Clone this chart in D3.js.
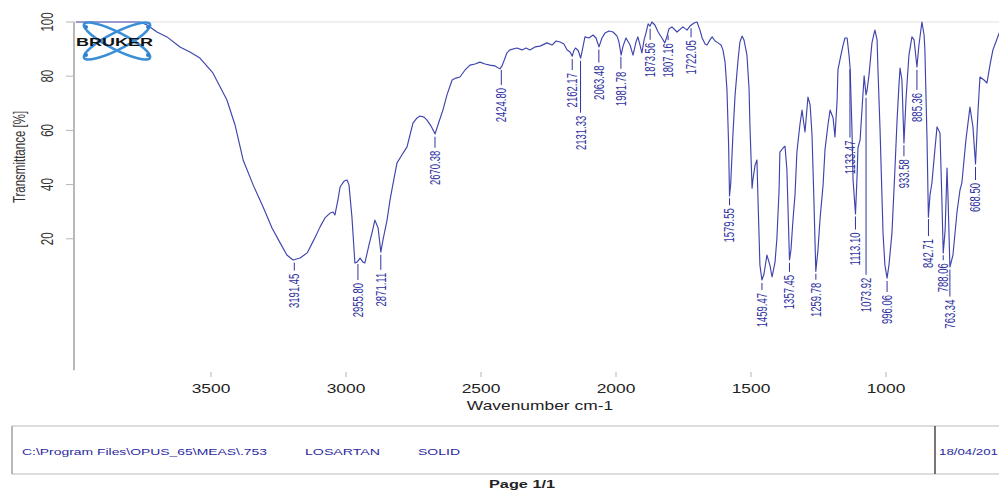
<!DOCTYPE html>
<html>
<head>
<meta charset="utf-8">
<script src="https://cdn.jsdelivr.net/npm/d3@7"></script>
<style>
  html, body { margin: 0; padding: 0; background: #fff; overflow: hidden; }
  svg { display: block; font-family: "Liberation Sans", Arial, sans-serif; }
</style>
</head>
<body>
<svg id="chart" width="999" height="490"></svg>
<script>
// ---- IR spectrum of losartan (solid) ----
// wavenumber in cm-1 (descending) and transmittance in %
const wavenumbers = [
  4000, 3763, 3737, 3700, 3663, 3615, 3578, 3541, 3493, 3441, 3411, 3381, 3344, 3307, 3274, 3244, 3219, 3196, 3170, 3144,
  3119, 3096, 3078, 3059, 3048, 3041, 3030, 3022, 3007, 2996, 2989, 2978, 2967, 2959, 2948, 2937, 2930, 2915, 2904, 2893,
  2881, 2871, 2863, 2848, 2837, 2822, 2811, 2793, 2774, 2763, 2752, 2737, 2726, 2711, 2700, 2685, 2670, 2656, 2641, 2626,
  2607, 2593, 2578, 2559, 2541, 2522, 2504, 2485, 2467, 2448, 2430, 2422, 2411, 2404, 2393, 2367, 2348, 2333, 2319, 2300,
  2281, 2256, 2237, 2222, 2207, 2193, 2181, 2170, 2162, 2156, 2150, 2140, 2131, 2124, 2115, 2100, 2085, 2074, 2063, 2052,
  2041, 2026, 2011, 1996, 1989, 1981, 1974, 1963, 1948, 1937, 1926, 1919, 1911, 1904, 1896, 1889, 1881, 1874, 1867, 1856,
  1844, 1830, 1819, 1811, 1804, 1793, 1774, 1752, 1737, 1726, 1711, 1700, 1689, 1681, 1670, 1663, 1652, 1644, 1633, 1622,
  1611, 1604, 1596, 1589, 1583, 1579.5, 1575, 1567, 1559, 1548, 1541, 1533, 1526, 1515, 1507, 1504, 1496, 1493, 1485, 1478,
  1474, 1467, 1459.5, 1452, 1441, 1430, 1422, 1411, 1404, 1396, 1393, 1381, 1374, 1367, 1357.5, 1352, 1344, 1337, 1330, 1319,
  1311, 1300, 1289, 1281, 1274, 1267, 1260, 1252, 1244, 1233, 1226, 1215, 1207, 1196, 1189, 1181, 1178, 1167, 1159, 1152,
  1144, 1137, 1133, 1126, 1122, 1113, 1107, 1104, 1096, 1089, 1081, 1074, 1070, 1063, 1052, 1044, 1041, 1033, 1030, 1022,
  1011, 1004, 996, 989, 978, 967, 959, 952, 948, 941, 933.5, 926, 922, 915, 904, 896, 885.4, 878, 867, 859,
  856, 848, 843, 837, 830, 819, 811, 800, 793, 788, 781, 774, 770, 763.3, 752, 737, 726, 719, 704, 689,
  678, 668.5, 659, 652, 637, 626, 615, 604, 593, 581, 567, 540, 500, 450, 400
];
const transmittance = [
  100.0, 100.0, 98.9, 96.3, 94.5, 90.8, 88.9, 86.7, 81.2, 71.2, 62.0, 49.1, 39.9, 31.7, 24.0, 18.5, 14.0, 12.2, 12.9, 14.8,
  19.6, 24.4, 27.7, 29.5, 29.9, 28.8, 34.3, 39.1, 41.3, 41.7, 39.9, 28.0, 11.1, 11.4, 12.9, 11.4, 11.1, 17.7, 22.1, 26.9,
  24.0, 15.1, 19.6, 26.9, 34.3, 42.4, 48.0, 50.9, 53.9, 58.3, 62.7, 64.6, 65.3, 64.9, 63.8, 61.6, 58.7, 63.1, 67.5, 73.1,
  78.6, 79.3, 79.7, 82.3, 84.1, 84.5, 85.2, 84.5, 84.1, 83.8, 82.7, 83.8, 86.7, 88.6, 89.7, 90.4, 89.7, 90.4, 89.7, 90.8,
  91.1, 92.3, 91.5, 93.0, 92.6, 91.9, 89.7, 88.9, 87.4, 89.5, 90.4, 89.5, 86.7, 90.0, 94.5, 94.1, 95.2, 94.1, 90.8, 94.1,
  95.9, 96.7, 96.3, 94.8, 92.6, 87.8, 91.1, 94.1, 91.5, 87.8, 92.6, 94.5, 91.5, 88.6, 93.4, 95.9, 99.3, 98.5, 100.0, 98.9,
  96.3, 94.1, 92.3, 94.8, 97.4, 98.2, 96.3, 98.2, 97.0, 98.5, 99.6, 100.0, 97.0, 94.1, 91.9, 91.5, 93.4, 94.5, 93.0, 92.3,
  91.5, 89.7, 85.2, 74.9, 55.0, 35.8, 40.5, 58.3, 73.1, 86.0, 92.6, 94.8, 93.4, 87.8, 74.9, 62.0, 38.7, 41.7, 47.2, 49.1,
  34.3, 10.3, 4.8, 7.0, 14.0, 10.3, 5.9, 11.4, 20.3, 38.0, 52.0, 53.5, 54.2, 45.4, 12.2, 15.9, 27.7, 36.2, 52.0, 62.0,
  67.5, 59.4, 72.3, 69.4, 58.3, 34.3, 8.0, 15.9, 27.7, 39.9, 52.8, 62.0, 67.5, 64.6, 57.6, 71.2, 82.3, 87.8, 91.5, 94.1,
  94.1, 87.8, 83.0, 60.1, 41.7, 29.2, 43.5, 53.5, 56.5, 67.5, 80.1, 73.1, 74.9, 80.4, 92.3, 95.9, 97.0, 93.4, 83.0, 60.1,
  22.1, 10.3, 5.5, 10.3, 22.1, 45.4, 63.8, 76.8, 83.0, 78.6, 55.4, 71.2, 77.5, 87.8, 94.5, 93.4, 83.4, 91.5, 100.0, 95.2,
  89.7, 56.5, 28.0, 36.2, 40.6, 52.8, 61.3, 59.0, 34.3, 14.8, 23.2, 46.1, 34.3, 9.6, 14.0, 29.9, 38.0, 40.6, 56.5, 68.6,
  61.3, 47.6, 67.5, 79.7, 78.6, 77.5, 84.1, 89.7, 92.6, 95.9, 97.8, 98.5, 98.0, 97.5, 97.0
];

// Peak picks, as printed
const peakWavenumbers = [3191.45, 2955.80, 2871.11, 2670.38, 2424.80, 2162.17, 2131.33, 2063.48, 1981.78, 1873.56,
  1807.16, 1722.05, 1579.55, 1459.47, 1357.45, 1259.78, 1133.47, 1113.10, 1073.92, 996.06,
  933.58, 885.36, 842.71, 788.06, 763.34, 668.50];
// Leader-line length (px) under each peak, same order
const leaderLengths = [8, 16, 15, 11, 15, 11, 52, 13, 12, 11,
  5, 9, 7, 7, 9, 6, 68, 13, 177, 11,
  11, 20, 17, 5, 27, 13];

const xTickValues = [3500, 3000, 2500, 2000, 1500, 1000];
const yTickValues = [100, 80, 60, 40, 20];

const footerPath = "C:\\Program Files\\OPUS_65\\MEAS\\.753";
const footerSample = "LOSARTAN";
const footerState = "SOLID";
const footerDate = "18/04/201";

// ---- drawing ----
const svg = d3.select("#chart");
const stretch = 1.45;               // horizontal glyph stretch of the printout
const curveColor = "#3f44ad";
const labelColor = "#2f33a0";

const x = d3.scaleLinear().domain([4000, 400]).range([76, 1048]);
const y = d3.scaleLinear().domain([0, 100]).range([293, 22]);
const yFloor = -28.5;               // bottom end of the ordinate line

// frame: top rule and ordinate line
svg.append("line").attr("x1", 74).attr("x2", 999)
  .attr("y1", y(100)).attr("y2", y(100))
  .attr("stroke", "#e2e2e2").attr("stroke-width", 1.2);
svg.append("line").attr("x1", 74).attr("x2", 74)
  .attr("y1", y(100)).attr("y2", y(yFloor))
  .attr("stroke", "#9a9a9a").attr("stroke-width", 1.4);

// y ticks and rotated labels
const yT = svg.append("g");
yTickValues.forEach(v => {
  yT.append("line").attr("x1", 66).attr("x2", 74)
    .attr("y1", y(v)).attr("y2", y(v))
    .attr("stroke", "#b5b5b5").attr("stroke-width", 1);
  yT.append("text")
    .attr("transform", `translate(47,${y(v)}) rotate(-90) scale(1,${stretch})`)
    .attr("text-anchor", "middle").attr("dy", "0.36em")
    .attr("font-size", 11.5).attr("fill", "#333")
    .text(v);
});
svg.append("text")
  .attr("transform", `translate(19,157) rotate(-90) scale(1,${stretch})`)
  .attr("text-anchor", "middle").attr("dy", "0.36em")
  .attr("font-size", 11.5).attr("fill", "#333")
  .text("Transmittance [%]");

// x ticks
const xT = svg.append("g");
xTickValues.forEach(v => {
  xT.append("line").attr("x1", x(v)).attr("x2", x(v))
    .attr("y1", 372).attr("y2", 377)
    .attr("stroke", "#b5b5b5").attr("stroke-width", 1);
  xT.append("text")
    .attr("transform", `translate(${x(v)},393) scale(${stretch},1)`)
    .attr("text-anchor", "middle")
    .attr("font-size", 12).attr("fill", "#222")
    .text(v);
});
svg.append("text")
  .attr("transform", `translate(540,410) scale(${stretch},1)`)
  .attr("text-anchor", "middle")
  .attr("font-size", 12).attr("fill", "#222")
  .text("Wavenumber cm-1");

// spectrum
const pts = wavenumbers.map((w, i) => [w, transmittance[i]]);
svg.append("path")
  .datum(pts)
  .attr("fill", "none")
  .attr("stroke", curveColor)
  .attr("stroke-width", 1.15)
  .attr("stroke-linejoin", "round")
  .attr("d", d3.line().x(d => x(d[0])).y(d => y(d[1])));

// transmittance at any wavenumber
function tAt(w) {
  for (let i = 0; i < pts.length - 1; i++) {
    const a = pts[i], b = pts[i + 1];
    if (w <= a[0] && w >= b[0]) {
      const f = (a[0] - w) / (a[0] - b[0]);
      return a[1] + f * (b[1] - a[1]);
    }
  }
  return pts[pts.length - 1][1];
}

// peak leaders and rotated peak labels
const pk = svg.append("g");
peakWavenumbers.forEach((w, i) => {
  const px = x(w);
  const top = y(tAt(w)) + 3;
  const bottom = top + leaderLengths[i];
  pk.append("line").attr("x1", px).attr("x2", px)
    .attr("y1", top).attr("y2", bottom)
    .attr("stroke", labelColor).attr("stroke-width", 1);
  pk.append("text")
    .attr("transform", `translate(${px},${bottom + 3}) rotate(-90) scale(1,${stretch})`)
    .attr("text-anchor", "end").attr("dy", "0.36em")
    .attr("font-size", 9.5).attr("fill", labelColor)
    .text(w.toFixed(2));
});

// Bruker logo
const logo = svg.append("g").attr("transform", "translate(117,41)");
[-27, 27].forEach(a => {
  logo.append("ellipse").attr("rx", 37).attr("ry", 8.5)
    .attr("transform", `rotate(${a})`)
    .attr("fill", "none").attr("stroke", "#3b8fd8").attr("stroke-width", 2.6);
});
[[-31, -14], [31, -14], [-31, 14], [31, 14]].forEach(p => {
  logo.append("circle").attr("cx", p[0]).attr("cy", p[1]).attr("r", 2)
    .attr("fill", "#2f7fcc");
});
svg.append("text")
  .attr("x", 76).attr("y", 46)
  .attr("font-size", 11).attr("font-weight", "bold")
  .attr("textLength", 77).attr("lengthAdjust", "spacingAndGlyphs")
  .attr("fill", "#111").text("BRUKER");

// footer box
svg.append("line").attr("x1", 12).attr("x2", 999).attr("y1", 426).attr("y2", 426)
  .attr("stroke", "#d2d2d2").attr("stroke-width", 1.5);
svg.append("line").attr("x1", 12).attr("x2", 999).attr("y1", 474).attr("y2", 474)
  .attr("stroke", "#d2d2d2").attr("stroke-width", 1.5);
svg.append("line").attr("x1", 12).attr("x2", 12).attr("y1", 426).attr("y2", 474)
  .attr("stroke", "#8a8a8a").attr("stroke-width", 1.2);
svg.append("line").attr("x1", 935).attr("x2", 935).attr("y1", 426).attr("y2", 474)
  .attr("stroke", "#555").attr("stroke-width", 1.6);

const footer = [
  [footerPath, 22, 245],
  [footerSample, 305, 75],
  [footerState, 418, 42],
  [footerDate, 939, 59]
];
footer.forEach(f => {
  svg.append("text").attr("x", f[1]).attr("y", 455)
    .attr("font-size", 9.5).attr("fill", "#2a2a9e")
    .attr("textLength", f[2]).attr("lengthAdjust", "spacingAndGlyphs")
    .text(f[0]);
});
svg.append("text").attr("x", 489).attr("y", 488)
  .attr("font-size", 10.5).attr("font-weight", "bold").attr("fill", "#222")
  .attr("textLength", 66).attr("lengthAdjust", "spacingAndGlyphs")
  .text("Page 1/1");
</script>
</body>
</html>
